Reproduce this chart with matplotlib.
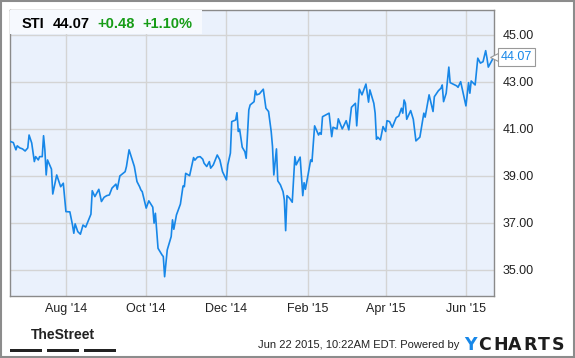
import numpy as np
import pandas as pd
import matplotlib
matplotlib.use("Agg")
import matplotlib.pyplot as plt
import matplotlib.dates as mdates
from matplotlib.patches import Rectangle

# DATA ############################################################

ticker = "STI"
change = "+0.48"
change_pct = "+1.10%"
stamp = "Jun 22 2015, 10:22AM EDT. Powered by"

dates = [
    "2014-06-20", "2014-06-22", "2014-06-24", "2014-06-25", "2014-06-27", "2014-06-29", "2014-07-01", "2014-07-03", "2014-07-04", "2014-07-06",
    "2014-07-08", "2014-07-09", "2014-07-11", "2014-07-12", "2014-07-14", "2014-07-15", "2014-07-16", "2014-07-17", "2014-07-18", "2014-07-21",
    "2014-07-22", "2014-07-25", "2014-07-28", "2014-07-30", "2014-08-01", "2014-08-04", "2014-08-06", "2014-08-07", "2014-08-08", "2014-08-10",
    "2014-08-12", "2014-08-14", "2014-08-16", "2014-08-20", "2014-08-21", "2014-08-23", "2014-08-26", "2014-08-28", "2014-08-30", "2014-09-01",
    "2014-09-03", "2014-09-05", "2014-09-08", "2014-09-09", "2014-09-11", "2014-09-15", "2014-09-16", "2014-09-18", "2014-09-20", "2014-09-22",
    "2014-09-24", "2014-09-26", "2014-09-27", "2014-09-28", "2014-10-01", "2014-10-03", "2014-10-06", "2014-10-07", "2014-10-08", "2014-10-10",
    "2014-10-13", "2014-10-14", "2014-10-15", "2014-10-17", "2014-10-20", "2014-10-21", "2014-10-22", "2014-10-24", "2014-10-27", "2014-10-29",
    "2014-10-30", "2014-10-31", "2014-11-03", "2014-11-06", "2014-11-07", "2014-11-09", "2014-11-11", "2014-11-13", "2014-11-14", "2014-11-16",
    "2014-11-18", "2014-11-19", "2014-11-21", "2014-11-24", "2014-11-26", "2014-11-28", "2014-12-01", "2014-12-02", "2014-12-04", "2014-12-05",
    "2014-12-08", "2014-12-09", "2014-12-10", "2014-12-11", "2014-12-13", "2014-12-15", "2014-12-16", "2014-12-18", "2014-12-19", "2014-12-22",
    "2014-12-23", "2014-12-24", "2014-12-26", "2014-12-29", "2014-12-31", "2015-01-02", "2015-01-04", "2015-01-05", "2015-01-06", "2015-01-08",
    "2015-01-09", "2015-01-11", "2015-01-13", "2015-01-14", "2015-01-15", "2015-01-16", "2015-01-18", "2015-01-20", "2015-01-22", "2015-01-23",
    "2015-01-26", "2015-01-28", "2015-01-29", "2015-01-30", "2015-02-01", "2015-02-03", "2015-02-04", "2015-02-06", "2015-02-09", "2015-02-10",
    "2015-02-11", "2015-02-12", "2015-02-17", "2015-02-19", "2015-02-20", "2015-02-23", "2015-02-24", "2015-02-27", "2015-03-02", "2015-03-04",
    "2015-03-06", "2015-03-09", "2015-03-10", "2015-03-12", "2015-03-14", "2015-03-17", "2015-03-19", "2015-03-20", "2015-03-23", "2015-03-24",
    "2015-03-25", "2015-03-26", "2015-03-28", "2015-03-30", "2015-04-01", "2015-04-02", "2015-04-04", "2015-04-06", "2015-04-09", "2015-04-11",
    "2015-04-13", "2015-04-14", "2015-04-15", "2015-04-16", "2015-04-17", "2015-04-20", "2015-04-22", "2015-04-24", "2015-04-27", "2015-04-30",
    "2015-05-01", "2015-05-04", "2015-05-07", "2015-05-08", "2015-05-11", "2015-05-13", "2015-05-14", "2015-05-15", "2015-05-17", "2015-05-19",
    "2015-05-20", "2015-05-25", "2015-05-26", "2015-05-28", "2015-06-01", "2015-06-03", "2015-06-04", "2015-06-05", "2015-06-08", "2015-06-10",
    "2015-06-12", "2015-06-14", "2015-06-16", "2015-06-17", "2015-06-18", "2015-06-21", "2015-06-22",
]

prices = [
    40.46, 40.42, 40.11, 40.28, 40.19, 40.15, 40.06, 40.19, 40.74, 40.40,
    39.61, 39.82, 39.68, 39.82, 39.82, 40.71, 40.11, 39.04, 39.68, 39.29,
    38.23, 39.04, 38.54, 38.69, 37.48, 37.47, 36.91, 36.56, 36.96, 36.63,
    36.52, 36.91, 36.82, 37.37, 38.37, 38.12, 38.43, 37.91, 38.09, 38.16,
    38.19, 38.48, 38.65, 38.43, 39.00, 39.18, 39.40, 40.11, 39.75, 39.40,
    38.76, 38.54, 38.40, 38.33, 37.63, 37.94, 37.67, 36.99, 37.41, 35.92,
    35.64, 35.57, 34.71, 35.85, 36.42, 37.13, 36.73, 37.34, 37.80, 38.57,
    38.54, 39.11, 39.01, 39.78, 39.67, 39.80, 39.82, 39.71, 39.54, 39.40,
    39.61, 39.33, 39.47, 39.89, 39.68, 39.18, 38.83, 39.47, 39.97, 41.31,
    41.38, 41.69, 40.89, 40.99, 40.22, 40.03, 39.75, 41.81, 42.02, 42.16,
    42.63, 42.45, 42.49, 42.69, 41.88, 41.74, 40.89, 40.25, 39.04, 40.15,
    38.79, 38.62, 38.33, 37.98, 36.67, 38.16, 38.05, 37.88, 39.82, 39.47,
    39.80, 38.16, 38.71, 38.43, 39.04, 39.68, 39.61, 41.13, 40.74, 40.84,
    40.77, 41.52, 41.67, 40.67, 41.07, 41.00, 41.43, 41.00, 41.35, 40.96,
    41.92, 42.09, 41.13, 42.69, 42.45, 42.91, 42.14, 42.66, 42.09, 41.67,
    40.56, 40.65, 40.53, 41.10, 40.89, 41.35, 41.31, 41.07, 41.48, 41.55,
    41.88, 41.67, 42.23, 42.09, 41.41, 41.78, 41.41, 40.49, 40.65, 41.67,
    41.50, 42.45, 41.74, 42.37, 42.62, 42.73, 42.87, 42.16, 42.52, 43.63,
    42.97, 42.83, 42.77, 43.01, 41.98, 42.97, 42.52, 43.04, 42.87, 44.01,
    43.80, 43.86, 44.33, 44.01, 43.63, 43.94, 44.07,
]

y_ticks = [35, 37, 39, 41, 43, 45]

# STYLE ###########################################################

LINE_BLUE = "#1787e8"
BG_BLUE = "#eaf1fc"
GRID = "#d4d4d4"
FRAME = "#8a8a8a"
GREEN = "#169c16"
TEXT = "#222222"

plt.rcParams["font.family"] = ["Liberation Sans", "DejaVu Sans"]

W, H = 575, 358
x0, x1 = 10, 494      # plot area in pixels
y0, y1 = 10, 296

x = pd.to_datetime(dates)
last = prices[-1]

# FIGURE ##########################################################

fig = plt.figure(figsize=(W / 100, H / 100), dpi=100)
ax = fig.add_axes([x0 / W, 1 - y1 / H, (x1 - x0) / W, (y1 - y0) / H])
ax.set_facecolor(BG_BLUE)

ax.plot(x, prices, color=LINE_BLUE, linewidth=1.2, zorder=3)

ax.set_xlim(x[0] - pd.Timedelta(hours=12), x[-1] + pd.Timedelta(hours=8))
ax.set_ylim(33.89, 46.06)

ax.xaxis.set_major_locator(mdates.MonthLocator(bymonth=[2, 4, 6, 8, 10, 12]))
ax.xaxis.set_major_formatter(mdates.DateFormatter("%b '%y"))
ax.set_yticks(y_ticks)
ax.set_yticklabels([f"{v:.2f}" for v in y_ticks])
ax.yaxis.tick_right()

ax.tick_params(axis="both", length=0, labelsize=9, colors=TEXT)
ax.tick_params(axis="x", pad=5)
ax.tick_params(axis="y", pad=6)

ax.grid(True, color=GRID, linewidth=1)
ax.set_axisbelow(True)
for spine in ax.spines.values():
    spine.set_color(FRAME)
    spine.set_linewidth(1)

# Header box

ax.add_patch(Rectangle(
    (0, 1 - 24 / (y1 - y0)),
    192 / (x1 - x0),
    24 / (y1 - y0),
    transform=ax.transAxes,
    facecolor="#f6f9fe",
    edgecolor="none",
    zorder=4
))

hy = 1 - 24 / H
fig.text(22 / W, hy, ticker, fontsize=10.5, fontweight="bold", color="black", va="center")
fig.text(53 / W, hy, f"{last:.2f}", fontsize=10.5, fontweight="bold", color="black", va="center")
fig.text(97 / W, hy, change, fontsize=10.5, fontweight="bold", color=GREEN, va="center")
fig.text(142 / W, hy, change_pct, fontsize=10.5, fontweight="bold", color=GREEN, va="center")

# Last price flag

ax.plot(
    [1.0], [last],
    marker="<",
    markersize=6,
    markerfacecolor="white",
    markeredgecolor="#999999",
    markeredgewidth=0.8,
    transform=ax.get_yaxis_transform(),
    clip_on=False,
    zorder=5
)
ax.annotate(
    f"{last:.2f}",
    xy=(1.0, last),
    xycoords=("axes fraction", "data"),
    xytext=(5, 0),
    textcoords="offset points",
    va="center",
    ha="left",
    fontsize=9,
    color=LINE_BLUE,
    bbox=dict(boxstyle="square,pad=0.25", facecolor="white", edgecolor="#999999", linewidth=0.8),
    annotation_clip=False,
    zorder=6
)

# FOOTER ##########################################################

fig.text(63 / W, 1 - 335 / H, "TheStreet", fontsize=10, fontweight="bold",
         color=TEXT, ha="center", va="center")
for bx in [10, 47, 84]:
    fig.patches.append(Rectangle(
        (bx / W, 1 - 352 / H), 32 / W, 3 / H,
        transform=fig.transFigure, facecolor=TEXT, edgecolor="none"
    ))

fig.text(459 / W, 1 - 345 / H, stamp, fontsize=8, color=TEXT, ha="right", va="center")

logo_x = 464
for ch, cw in zip("YCHARTS", [14, 15, 15, 15, 15, 14, 13]):
    fig.text(logo_x / W, 1 - 345 / H, ch, fontsize=12.5, fontweight="bold",
             family=["DejaVu Sans"], color=LINE_BLUE if ch == "Y" else "#1d1d1d",
             ha="left", va="center")
    logo_x += cw

# Outer frame
fig.patches.append(Rectangle(
    (1 / W, 1 / H), (W - 2) / W, (H - 2) / H,
    transform=fig.transFigure, fill=False, edgecolor="#8c8c8c", linewidth=1.5
))

fig.savefig("out.png", dpi=100)
